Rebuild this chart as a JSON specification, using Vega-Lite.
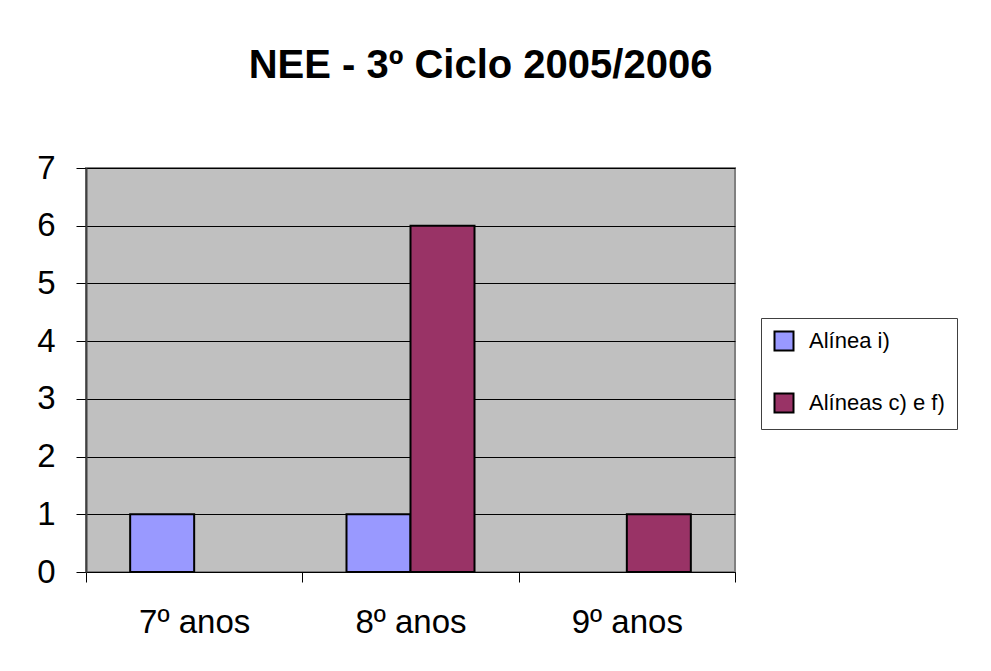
{
  "$schema": "https://vega.github.io/schema/vega-lite/v6.json",
  "width": 649,
  "height": 404,
  "autosize": {"type": "none"},
  "padding": {"left": 86, "top": 168, "right": 256, "bottom": 99},
  "background": "white",
  "title": {
    "text": "NEE - 3º Ciclo 2005/2006",
    "font": "Liberation Sans",
    "fontSize": 40,
    "fontWeight": "bold",
    "color": "black",
    "anchor": "middle",
    "frame": "group",
    "dx": 70,
    "offset": 66
  },
  "data": {
    "values": [
      {"ano": "7º anos", "serie": "Alínea i)", "valor": 1},
      {"ano": "8º anos", "serie": "Alínea i)", "valor": 1},
      {"ano": "8º anos", "serie": "Alíneas c) e f)", "valor": 6},
      {"ano": "9º anos", "serie": "Alíneas c) e f)", "valor": 1}
    ]
  },
  "mark": {"type": "bar", "stroke": "black", "strokeWidth": 2},
  "encoding": {
    "x": {
      "field": "ano",
      "type": "nominal",
      "sort": ["7º anos", "8º anos", "9º anos"],
      "scale": {"domain": ["7º anos", "8º anos", "9º anos"], "paddingInner": 0, "paddingOuter": 0},
      "axis": {
        "title": null,
        "labelAngle": 0,
        "labelFont": "Liberation Sans",
        "labelFontSize": 33,
        "labelColor": "black",
        "labelPadding": 24,
        "tickBand": "extent",
        "tickSize": 10,
        "tickColor": "black",
        "tickWidth": 1,
        "domainColor": "black",
        "domainWidth": 1,
        "grid": false
      }
    },
    "xOffset": {
      "field": "serie",
      "type": "nominal",
      "scale": {"domain": ["Alínea i)", "Alíneas c) e f)"], "paddingInner": 0, "paddingOuter": 0.69}
    },
    "y": {
      "field": "valor",
      "type": "quantitative",
      "scale": {"domain": [0, 7], "nice": false},
      "axis": {
        "title": null,
        "values": [0, 1, 2, 3, 4, 5, 6, 7],
        "labelFont": "Liberation Sans",
        "labelFontSize": 33,
        "labelColor": "black",
        "labelPadding": 21,
        "tickSize": 10,
        "tickColor": "black",
        "tickWidth": 1,
        "domainColor": "#404040",
        "domainWidth": 2,
        "grid": true,
        "gridColor": "black",
        "gridWidth": 1,
        "gridOpacity": 1
      }
    },
    "color": {
      "field": "serie",
      "type": "nominal",
      "scale": {"domain": ["Alínea i)", "Alíneas c) e f)"], "range": ["#9999FF", "#993366"]},
      "legend": {
        "title": null,
        "orient": "none",
        "legendX": 675,
        "legendY": 150,
        "symbolType": "square",
        "symbolSize": 361,
        "symbolStrokeColor": "black",
        "symbolStrokeWidth": 2,
        "symbolOpacity": 1,
        "labelFont": "Liberation Sans",
        "labelFontSize": 22,
        "labelColor": "black",
        "labelOffset": 14,
        "rowPadding": 34,
        "padding": 12,
        "strokeColor": "#404040",
        "fillColor": "white"
      }
    }
  },
  "config": {
    "font": "Liberation Sans",
    "view": {"fill": "#C0C0C0", "stroke": "#808080", "strokeWidth": 2}
  }
}
